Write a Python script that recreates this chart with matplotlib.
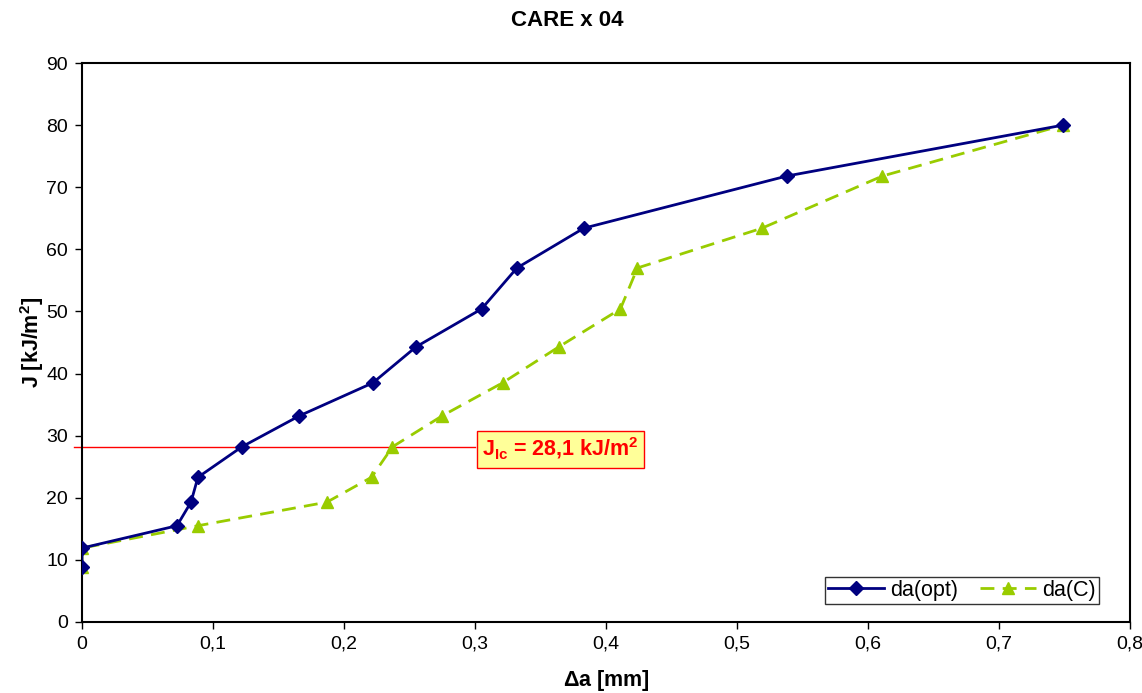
import matplotlib
matplotlib.use("Agg")
import matplotlib.pyplot as plt
from matplotlib.ticker import FuncFormatter

plt.rcParams['font.family'] = ['Liberation Sans', 'DejaVu Sans']
plt.rcParams['mathtext.fontset'] = 'custom'
plt.rcParams['mathtext.rm'] = 'Liberation Sans'
plt.rcParams['mathtext.bf'] = 'Liberation Sans:bold'
plt.rcParams['mathtext.it'] = 'Liberation Sans:italic'

J_values = [8.9, 11.9, 15.5, 19.3, 23.3, 28.2, 33.2, 38.5, 44.3, 50.4, 57.0, 63.4, 71.8, 80.0]
da_opt = [0.0, 0.0, 0.0725, 0.0832, 0.0885, 0.122, 0.166, 0.222, 0.255, 0.305, 0.332, 0.383, 0.538, 0.749]
da_C = [0.0, 0.0, 0.0885, 0.187, 0.221, 0.237, 0.275, 0.321, 0.364, 0.411, 0.424, 0.519, 0.611, 0.749]
J_Ic = 28.1

fig = plt.figure(figsize=(11.42, 6.93), dpi=100)
ax = fig.add_axes([82/1142, 1-622/693, (1130-82)/1142, (622-63)/693])

ax.plot(da_opt, J_values, color='#000080', lw=2, marker='D', ms=7, label='da(opt)', zorder=4)
ax.plot(da_C, J_values, color='#99CC00', lw=2, ls=(0, (5, 3)), marker='^', ms=9, label='da(C)', zorder=3)

ax.plot([-0.006, 0.3], [J_Ic, J_Ic], color='red', lw=1, clip_on=False, zorder=2)
ax.text(0.3055, J_Ic - 0.3, r'J$_{\mathbf{Ic}}$ = 28,1 kJ/m$^{\mathbf{2}}$', color='red', fontsize=15.5, fontweight='bold',
        va='center', ha='left', zorder=5,
        bbox=dict(boxstyle='square,pad=0.25', fc='#FFFF99', ec='red', lw=1))

ax.set_xlim(0, 0.8)
ax.set_ylim(0, 90)
ax.set_xticks([i/10 for i in range(9)])
ax.set_yticks(range(0, 91, 10))
ax.xaxis.set_major_formatter(FuncFormatter(lambda v, p: ('%g' % round(v, 1)).replace('.', ',')))
ax.tick_params(direction='out', length=5, width=1, labelsize=14, colors='black', pad=5)
for s in ax.spines.values():
    s.set_linewidth(1.5)

ax.set_xlabel(r'$\mathbf{\Delta}$a [mm]', fontsize=15.5, fontweight='bold', labelpad=11)
ax.set_ylabel(r'J [kJ/m$^{\mathbf{2}}$]', fontsize=15.5, fontweight='bold', labelpad=0)
fig.text(0.497, 1-20/693, 'CARE x 04', fontsize=16, fontweight='bold', ha='center', va='center')

leg = ax.legend(loc='lower right', ncol=2, fontsize=15.5, frameon=True, fancybox=False,
                edgecolor='black', handlelength=2.6, columnspacing=1.0, handletextpad=0.3,
                borderpad=0.15, borderaxespad=0, bbox_to_anchor=((1099-82)/1048, (622-604)/559))
leg.get_frame().set_linewidth(1)

fig.savefig('out.png', dpi=100)
